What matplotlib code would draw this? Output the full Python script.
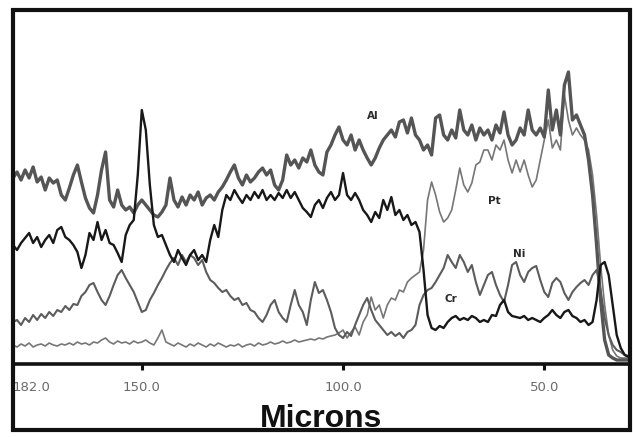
import numpy as np
import matplotlib
matplotlib.use("Agg")
import matplotlib.pyplot as plt
from matplotlib.patches import Rectangle

# distance grid (microns), 1-micron sampling from 182 down to 29
microns = np.arange(182, 28, -1)

al = [186,192,184,194,186,197,182,187,174,186,181,184,169,164,176,189,199,182,166,156,
      151,169,194,212,164,157,174,159,154,157,151,159,164,159,154,149,147,152,159,186,
      164,157,167,159,169,164,172,159,166,169,164,172,177,184,192,199,186,179,189,182,
      186,192,196,189,194,179,174,184,209,199,204,196,206,202,214,199,192,189,212,219,
      229,237,224,219,229,214,224,214,206,199,206,216,224,229,234,227,242,244,231,246,
      229,224,214,219,209,246,249,229,224,234,226,254,234,229,239,224,236,229,234,224,
      239,231,252,229,219,224,236,229,254,234,229,236,227,274,234,254,229,279,292,244,
      249,239,229,204,169,119,64,24,9,6,4,4,4,4]

pt = [19,17,20,18,21,17,19,20,18,21,19,18,20,19,21,19,22,20,21,19,
      22,21,24,26,22,20,23,21,22,20,23,21,22,24,21,19,26,34,22,20,
      18,21,19,17,20,18,21,19,17,20,18,21,19,17,19,18,20,17,19,20,
      18,21,19,20,22,20,21,23,21,22,24,22,23,24,25,24,26,25,27,28,
      29,31,34,26,32,37,29,42,49,67,54,59,46,59,66,64,74,72,82,86,
      89,92,114,164,182,169,152,142,146,154,174,196,179,172,181,199,202,214,214,204,
      219,214,224,204,191,204,192,204,189,177,184,204,224,244,216,224,214,269,244,229,
      236,229,224,214,189,149,99,59,29,14,8,6,6,6]

ni = [42,44,39,46,42,49,44,50,46,52,48,54,52,58,54,60,59,68,72,79,
      81,72,64,59,68,79,89,94,86,79,72,62,52,54,64,71,79,86,94,101,
      106,99,109,102,109,106,99,104,92,84,81,76,72,74,68,64,66,59,61,54,
      52,46,42,49,59,64,52,46,42,59,74,59,52,39,64,82,71,74,64,52,
      36,29,26,32,28,39,49,59,66,54,44,39,34,29,32,28,31,26,32,34,
      39,59,69,74,76,82,89,96,109,102,96,109,102,92,99,82,69,79,89,92,
      79,69,62,79,99,102,89,82,92,96,98,84,72,67,81,86,82,71,64,72,
      77,81,84,79,89,94,74,46,29,19,14,12,9,8]

cr = [119,114,121,126,131,121,127,117,124,129,121,134,137,127,124,119,112,96,109,131,
      124,142,124,134,121,119,111,102,129,139,144,189,254,234,179,139,127,129,119,109,
      102,114,106,99,109,114,104,109,102,124,139,127,154,169,164,174,167,161,169,164,
      172,166,174,164,169,164,171,166,174,166,172,164,156,152,147,159,164,156,166,172,
      164,169,191,169,164,171,164,154,149,142,152,146,164,154,167,149,154,144,149,139,
      142,132,94,49,36,34,38,36,42,46,48,44,46,44,48,46,42,44,42,49,
      48,59,64,52,48,47,46,48,44,46,44,42,46,49,54,49,46,52,54,48,
      46,42,44,39,42,64,99,102,89,59,29,16,9,7]

tick_values = [182.0, 150.0, 100.0, 50.0]
tick_labels = ["182.0", "150.0", "100.0", "50.0"]

series_labels = ["Al", "Pt", "Ni", "Cr"]
label_x = [92.5, 62.4, 56.2, 73.1]
label_y = [248, 163, 110, 65]

W, H = 636, 437
fig = plt.figure(figsize=(W / 100, H / 100), dpi=100)
fig.patch.set_facecolor("white")

ax = fig.add_axes([13 / W, (H - 364) / H, 617 / W, 354.5 / H])
ax.set_xlim(182, 28.7)
ax.set_ylim(0, 354.5)

ax.plot(microns, pt, color="#767676", lw=1.2, zorder=2)
ax.plot(microns, ni, color="#5c5c5c", lw=1.5, zorder=3)
ax.plot(microns, al, color="#555555", lw=2.4, zorder=4)
ax.plot(microns, cr, color="#181818", lw=1.7, zorder=5)

for s, x, y in zip(series_labels, label_x, label_y):
    ax.text(x, y, s, fontsize=7.5, color="#2a2a2a", fontweight="bold",
            ha="center", va="center", family="DejaVu Sans", zorder=6)

for sp in ("left", "right", "top"):
    ax.spines[sp].set_visible(False)
ax.spines["bottom"].set_linewidth(2.6)
ax.spines["bottom"].set_color("#111111")
ax.set_yticks([])
ax.set_xticks(tick_values)
ax.set_xticklabels(tick_labels)
ax.tick_params(axis="x", direction="out", length=4.5, width=2.2, color="#111111",
               pad=8, labelsize=9.5, labelcolor="#6a6a6a")
tl = ax.get_xticklabels()
tl[0].set_horizontalalignment("left")

fig.add_artist(Rectangle((13 / W, (H - 430) / H), 617 / W, 420.5 / H,
                         transform=fig.transFigure, fill=False,
                         edgecolor="#111111", linewidth=3.0, zorder=10))

fig.text(321 / W, 10 / H, "Microns", fontsize=23, fontweight="bold",
         family="Liberation Sans", ha="center", va="baseline", color="#111111")

fig.savefig("out.png", dpi=100, facecolor="white")
